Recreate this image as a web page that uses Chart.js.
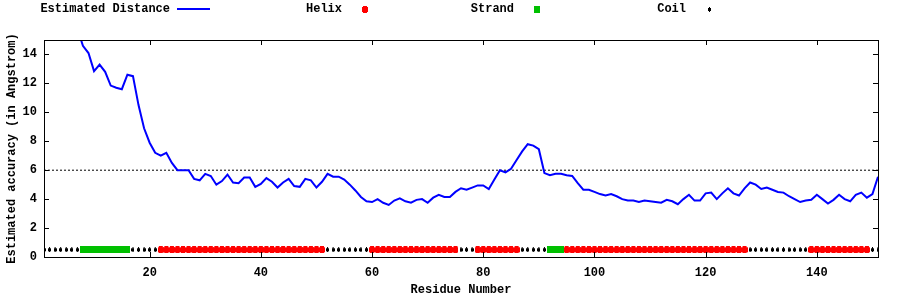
<!DOCTYPE html>
<html>
<head>
<meta charset="utf-8">
<script src="https://cdn.jsdelivr.net/npm/chart.js@4/dist/chart.umd.min.js"></script>
<style>
  body { margin: 0; background: #fff; }
  #wrap { width: 900px; height: 300px; }
</style>
</head>
<body>
<div id="wrap"><canvas id="distChart" width="900" height="300"></canvas></div>
<script>
// Estimated distance per residue (residues 1..151)
const distance = [
  21.5, 20.8, 20.0, 19.0, 18.0, 17.0, 15.8,
  14.6, 14.1, 12.85, 13.3, 12.8, 11.85, 11.7, 11.6, 12.6, 12.5, 10.5, 8.9, 7.9, 7.2, 7.0, 7.2, 6.5, 6.0, 6.0, 6.0, 5.4, 5.3, 5.75, 5.6,
  5.0, 5.25, 5.7, 5.15, 5.1, 5.5, 5.5, 4.85, 5.05, 5.45, 5.2, 4.8, 5.15, 5.4, 4.9, 4.85, 5.4, 5.3, 4.8, 5.2, 5.75, 5.55, 5.55, 5.35, 5.0, 4.6, 4.15, 3.85, 3.8,
  4.0, 3.75, 3.6, 3.9, 4.05, 3.85, 3.75, 3.95, 4.0, 3.75, 4.1, 4.3, 4.15, 4.15, 4.5, 4.75, 4.65, 4.8, 4.95, 4.95, 4.7, 5.35, 6.0, 5.85, 6.1, 6.7, 7.3, 7.8, 7.7, 7.45,
  5.8, 5.65, 5.75, 5.75, 5.65, 5.6, 5.1, 4.65, 4.65, 4.5, 4.35, 4.25, 4.35, 4.2, 4.0, 3.9, 3.9, 3.8, 3.9, 3.85, 3.8, 3.75, 3.95, 3.85, 3.65, 4.0, 4.3, 3.9, 3.9, 4.4,
  4.45, 4.0, 4.4, 4.75, 4.4, 4.25, 4.75, 5.15, 5.0, 4.7, 4.8, 4.65, 4.5, 4.45, 4.2, 4.0, 3.8, 3.9, 3.95, 4.3, 4.0, 3.7, 3.95, 4.3, 4.0, 3.85, 4.3, 4.45, 4.1, 4.35, 5.55
];

// Secondary structure ranges (inclusive residue numbers); everything else is coil
const helixRanges = [[22, 51], [60, 75], [79, 86], [95, 127], [139, 149]];
const strandRanges = [[8, 16], [92, 94]];

const threshold = 6.0;
const ssLevel = 0.5;
const xRange = [1, 151];
const yRange = [0, 15];

const seriesLabels = ['Estimated Distance', 'Helix', 'Strand', 'Coil'];

const monoFont = '"Liberation Mono", "DejaVu Sans Mono", monospace';

function inRanges(r, ranges) {
    return ranges.some(([a, b]) => r >= a && r <= b);
}

const linePoints = distance.map((v, i) => ({ x: i + 1, y: v }));
const helixPoints = [], strandPoints = [], coilPoints = [];
distance.forEach((v, i) => {
    const r = i + 1;
    if (inRanges(r, helixRanges)) helixPoints.push({ x: r, y: ssLevel });
    else if (inRanges(r, strandRanges)) strandPoints.push({ x: r, y: ssLevel });
    else coilPoints.push({ x: r, y: ssLevel });
});

// little bitmap-like markers
function makeMarker(w, h, color, notched) {
    const c = document.createElement('canvas');
    c.width = w; c.height = h;
    const g = c.getContext('2d');
    g.fillStyle = color;
    if (notched) {
        g.fillRect(0, 1, w, h - 2);
        g.fillRect(1, 0, w - 2, h);
    } else {
        g.fillRect(0, 0, w, h);
    }
    return c;
}

const helixMarker = makeMarker(6, 7, '#ff0000', true);
const strandMarker = makeMarker(6, 7, '#00c000', false);
const coilMarker = makeMarker(3, 5, '#000000', true);

const frameAndLegend = {
    id: 'frameAndLegend',
    afterDatasetsDraw(chart) {
        const ctx = chart.ctx;
        const area = chart.chartArea;
        const xs = chart.scales.x, ys = chart.scales.y;
        const tick = 5;
        ctx.save();
        ctx.strokeStyle = '#000';
        ctx.lineWidth = 1;
        ctx.beginPath();
        ys.ticks.forEach(t => {
            const py = Math.round(ys.getPixelForValue(t.value)) + 0.5;
            ctx.moveTo(area.left, py); ctx.lineTo(area.left + tick, py);
            ctx.moveTo(area.right, py); ctx.lineTo(area.right - tick, py);
        });
        xs.ticks.forEach(t => {
            const px = Math.round(xs.getPixelForValue(t.value)) + 0.5;
            ctx.moveTo(px, area.bottom); ctx.lineTo(px, area.bottom - tick);
            ctx.moveTo(px, area.top); ctx.lineTo(px, area.top + tick);
        });
        ctx.stroke();
        ctx.strokeRect(Math.round(area.left) + 0.5, Math.round(area.top) + 0.5,
            Math.round(area.right - area.left), Math.round(area.bottom - area.top));

        // legend: right-aligned text followed by sample, gnuplot style
        ctx.font = 'bold 12px ' + monoFont;
        ctx.fillStyle = '#000';
        ctx.textAlign = 'right';
        ctx.textBaseline = 'middle';
        const markers = [null, helixMarker, strandMarker, coilMarker];
        seriesLabels.forEach((label, k) => {
            const textRight = 170 + k * 172;
            const sampleX = 193 + k * 172;
            const ly = 9;
            ctx.fillText(label, textRight, ly);
            if (k === 0) {
                ctx.strokeStyle = '#0000ff';
                ctx.lineWidth = 2;
                ctx.beginPath();
                ctx.moveTo(sampleX - 16, ly); ctx.lineTo(sampleX + 17, ly);
                ctx.stroke();
            } else {
                const m = markers[k];
                ctx.drawImage(m, Math.round(sampleX - m.width / 2), Math.round(ly - m.height / 2));
            }
        });
        ctx.restore();
    }
};

new Chart(document.getElementById('distChart').getContext('2d'), {
    type: 'scatter',
    data: {
        datasets: [
            {
                type: 'line',
                label: seriesLabels[0],
                data: linePoints,
                borderColor: '#0000ff',
                borderWidth: 2,
                pointRadius: 0,
                tension: 0,
                order: 1
            },
            {
                label: seriesLabels[1],
                data: helixPoints,
                pointStyle: helixMarker,
                pointRadius: 3,
                order: 2
            },
            {
                label: seriesLabels[2],
                data: strandPoints,
                pointStyle: strandMarker,
                pointRadius: 3,
                order: 2
            },
            {
                label: seriesLabels[3],
                data: coilPoints,
                pointStyle: coilMarker,
                pointRadius: 2,
                order: 2
            },
            {
                type: 'line',
                label: 'threshold',
                data: [{ x: xRange[0], y: threshold }, { x: xRange[1], y: threshold }],
                borderColor: '#000',
                borderWidth: 1,
                borderDash: [2, 2],
                pointRadius: 0,
                order: 3
            }
        ]
    },
    options: {
        responsive: false,
        animation: false,
        devicePixelRatio: 1,
        layout: { padding: { top: 40, right: 22, left: 0, bottom: 0 } },
        plugins: {
            legend: { display: false },
            tooltip: { enabled: false }
        },
        scales: {
            x: {
                type: 'linear',
                min: xRange[0],
                max: xRange[1],
                grid: { display: false, drawTicks: false, tickLength: 0 },
                border: { display: false },
                ticks: {
                    stepSize: 20,
                    includeBounds: false,
                    padding: 9,
                    color: '#000',
                    maxRotation: 0,
                    font: { family: monoFont, size: 12, weight: 'bold' }
                },
                title: {
                    display: true,
                    text: 'Residue Number',
                    color: '#000',
                    padding: { top: 2, bottom: 3 },
                    font: { family: monoFont, size: 12, weight: 'bold' }
                },
                afterFit: s => { s.height = 43; }
            },
            y: {
                min: yRange[0],
                max: yRange[1],
                grid: { display: false, drawTicks: false, tickLength: 0 },
                border: { display: false },
                ticks: {
                    stepSize: 2,
                    includeBounds: false,
                    padding: 7,
                    color: '#000',
                    font: { family: monoFont, size: 12, weight: 'bold' }
                },
                title: {
                    display: true,
                    text: 'Estimated accuracy (in Angstrom)',
                    color: '#000',
                    padding: { top: 5, bottom: 2 },
                    font: { family: monoFont, size: 12, weight: 'bold' }
                },
                afterFit: s => { s.width = 44; }
            }
        }
    },
    plugins: [frameAndLegend]
});
</script>
</body>
</html>
